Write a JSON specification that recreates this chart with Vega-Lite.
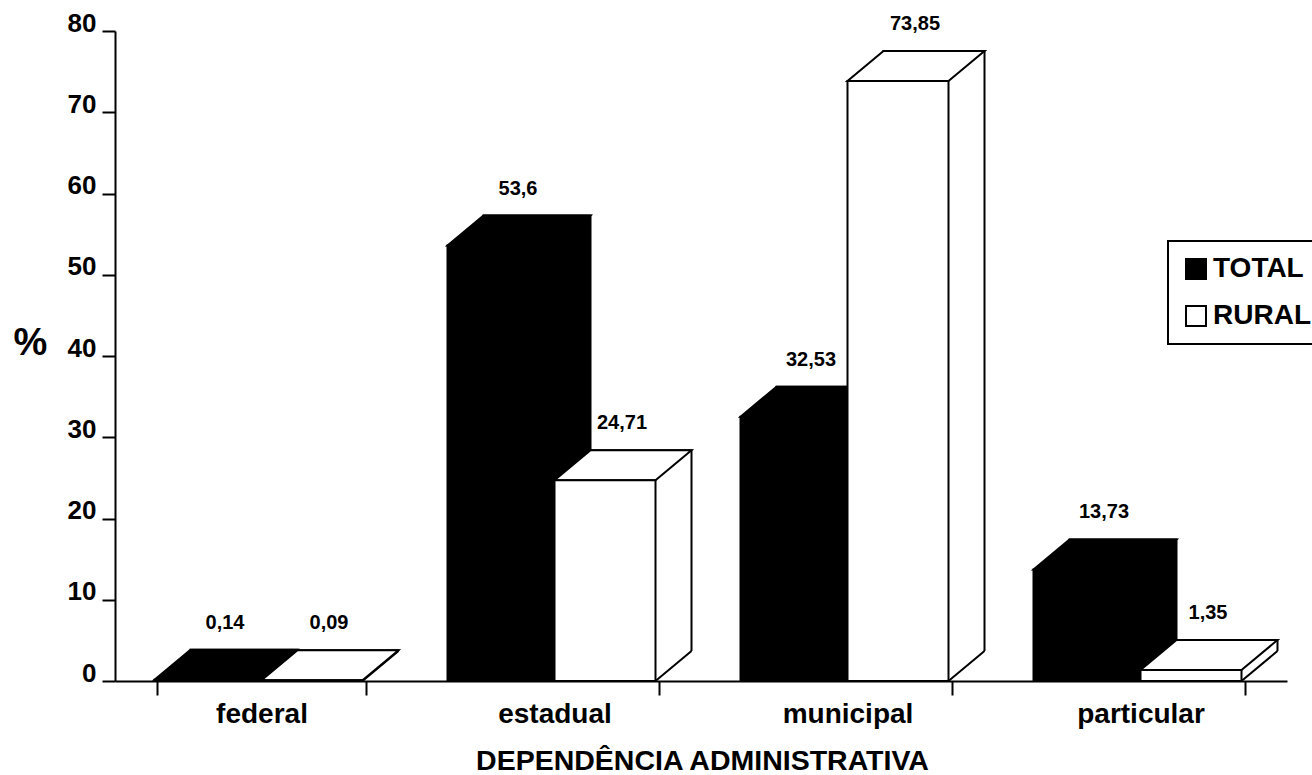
{
  "$schema": "https://vega.github.io/schema/vega-lite/v6.json",
  "width": 1172,
  "height": 650,
  "autosize": {"type": "none"},
  "padding": {"left": 115, "top": 31, "right": 25, "bottom": 94},
  "background": "white",
  "config": {"view": {"stroke": null}, "font": "Liberation Sans", "legend": {"strokeWidth": 2}},
  "data": {"values": [
    {"dep": "federal", "serie": "TOTAL", "valor": 0.14, "rotulo": "0,14"},
    {"dep": "federal", "serie": "RURAL", "valor": 0.09, "rotulo": "0,09"},
    {"dep": "estadual", "serie": "TOTAL", "valor": 53.6, "rotulo": "53,6"},
    {"dep": "estadual", "serie": "RURAL", "valor": 24.71, "rotulo": "24,71"},
    {"dep": "municipal", "serie": "TOTAL", "valor": 32.53, "rotulo": "32,53"},
    {"dep": "municipal", "serie": "RURAL", "valor": 73.85, "rotulo": "73,85"},
    {"dep": "particular", "serie": "TOTAL", "valor": 13.73, "rotulo": "13,73"},
    {"dep": "particular", "serie": "RURAL", "valor": 1.35, "rotulo": "1,35"}
  ]},
  "encoding": {
    "x": {
      "field": "dep", "type": "nominal",
      "sort": ["federal", "estadual", "municipal", "particular"],
      "scale": {"paddingInner": 0.29, "paddingOuter": 0.145},
      "axis": {
        "title": "DEPENDÊNCIA ADMINISTRATIVA", "titleFont": "Liberation Sans", "titleFontSize": 28.5, "titleFontWeight": "bold", "titleColor": "black",
        "titleBaseline": "alphabetic", "titleY": 88, "titleX": 587, "titleAlign": "center",
        "labelAngle": 0, "labelFont": "Liberation Sans", "labelFontSize": 28, "labelFontWeight": "bold", "labelColor": "black",
        "labelBaseline": "alphabetic", "labelPadding": 27,
        "tickSize": 14, "tickWidth": 2, "tickColor": "black", "tickBand": "extent",
        "domainColor": "black", "domainWidth": 2, "grid": false, "zindex": 1
      }
    }
  },
  "layer": [
    {
      "transform": [{"filter": "datum.serie === 'TOTAL'"}],
      "mark": {"type": "bar", "width": 107, "xOffset": -17.5, "yOffset": -30, "fill": "black", "stroke": "black", "strokeWidth": 2},
      "encoding": {
        "y": {
          "field": "valor", "type": "quantitative", "stack": null,
          "scale": {"domain": [0, 80], "nice": false},
          "axis": {
            "title": "%", "titleAngle": 0, "titleFontSize": 38, "titleFontWeight": "bold", "titleColor": "black",
            "titleX": -85, "titleY": 312, "titleAlign": "center", "titleBaseline": "middle",
            "values": [0, 10, 20, 30, 40, 50, 60, 70, 80],
            "labelFontSize": 26, "labelFontWeight": "bold", "labelColor": "black", "labelBaseline": "alphabetic", "labelPadding": 6,
            "tickSize": 13, "tickWidth": 2, "tickColor": "black",
            "domainColor": "black", "domainWidth": 2, "grid": false, "zindex": 1
          }
        }
      }
    },
    {
      "transform": [{"filter": "datum.serie === 'TOTAL'"}],
      "mark": {"type": "point", "shape": "M0,0L36,-30L39,-30L39,1L0,1Z", "size": 4, "filled": true, "fill": "white", "strokeWidth": 0, "opacity": 1},
      "encoding": {"y": {"datum": 0, "type": "quantitative"}}
    },
    {
      "transform": [{"filter": "datum.serie === 'TOTAL'"}],
      "mark": {"type": "point", "shape": "M0,0L36,-30", "size": 4, "filled": false, "stroke": "black", "strokeWidth": 2, "opacity": 1},
      "encoding": {"y": {"datum": 0, "type": "quantitative"}}
    },
    {
      "transform": [{"filter": "datum.serie === 'TOTAL'"}],
      "mark": {"type": "point", "shape": "M-107,0L0,0L36,-30L-71,-30Z", "size": 4, "filled": true, "fill": "black", "stroke": "black", "strokeWidth": 2, "opacity": 1},
      "encoding": {"y": {"field": "valor", "type": "quantitative"}}
    },
    {
      "transform": [{"filter": "datum.serie === 'TOTAL'"}],
      "mark": {"type": "bar", "width": 107, "xOffset": -53.5, "stroke": "black", "strokeWidth": 2},
      "encoding": {
        "y": {"field": "valor", "type": "quantitative", "stack": null},
        "fill": {
          "field": "serie", "type": "nominal",
          "scale": {"domain": ["TOTAL", "RURAL"], "range": ["black", "white"]},
          "legend": {
            "orient": "none", "legendX": 1053, "legendY": 210, "title": null, "padding": 14,
            "strokeColor": "black", "fillColor": "white",
            "symbolType": "square", "symbolSize": 400, "symbolStrokeColor": "black", "symbolStrokeWidth": 2,
            "labelFontSize": 28, "labelFontWeight": "bold", "labelColor": "black", "labelOffset": 3, "rowPadding": 19
          }
        }
      }
    },
    {
      "transform": [{"filter": "datum.serie === 'TOTAL'"}],
      "mark": {"type": "text", "dx": -36.5, "dy": -57, "fontSize": 20, "fontWeight": "bold", "color": "black", "baseline": "middle", "align": "center"},
      "encoding": {"y": {"field": "valor", "type": "quantitative"}, "text": {"field": "rotulo"}}
    },
    {
      "transform": [{"filter": "datum.serie === 'RURAL'"}],
      "mark": {"type": "bar", "width": 101, "xOffset": 86.5, "yOffset": -30, "fill": "white", "stroke": "black", "strokeWidth": 2},
      "encoding": {"y": {"field": "valor", "type": "quantitative", "stack": null}}
    },
    {
      "transform": [{"filter": "datum.serie === 'RURAL'"}],
      "mark": {"type": "point", "shape": "M101,0L137,-30L140,-30L140,1L101,1Z", "size": 4, "filled": true, "fill": "white", "strokeWidth": 0, "opacity": 1},
      "encoding": {"y": {"datum": 0, "type": "quantitative"}}
    },
    {
      "transform": [{"filter": "datum.serie === 'RURAL'"}],
      "mark": {"type": "point", "shape": "M101,0L137,-30", "size": 4, "filled": false, "stroke": "black", "strokeWidth": 2, "opacity": 1},
      "encoding": {"y": {"datum": 0, "type": "quantitative"}}
    },
    {
      "transform": [{"filter": "datum.serie === 'RURAL'"}],
      "mark": {"type": "point", "shape": "M0,0L101,0L137,-30L36,-30Z", "size": 4, "filled": true, "fill": "white", "stroke": "black", "strokeWidth": 2, "opacity": 1},
      "encoding": {"y": {"field": "valor", "type": "quantitative"}}
    },
    {
      "transform": [{"filter": "datum.serie === 'RURAL'"}],
      "mark": {"type": "bar", "width": 101, "xOffset": 50.5, "stroke": "black", "strokeWidth": 2},
      "encoding": {
        "y": {"field": "valor", "type": "quantitative", "stack": null},
        "fill": {"field": "serie", "type": "nominal", "scale": {"domain": ["TOTAL", "RURAL"], "range": ["black", "white"]}}
      }
    },
    {
      "transform": [{"filter": "datum.serie === 'RURAL'"}],
      "mark": {"type": "text", "dx": 67.5, "dy": -57, "fontSize": 20, "fontWeight": "bold", "color": "black", "baseline": "middle", "align": "center"},
      "encoding": {"y": {"field": "valor", "type": "quantitative"}, "text": {"field": "rotulo"}}
    }
  ]
}
